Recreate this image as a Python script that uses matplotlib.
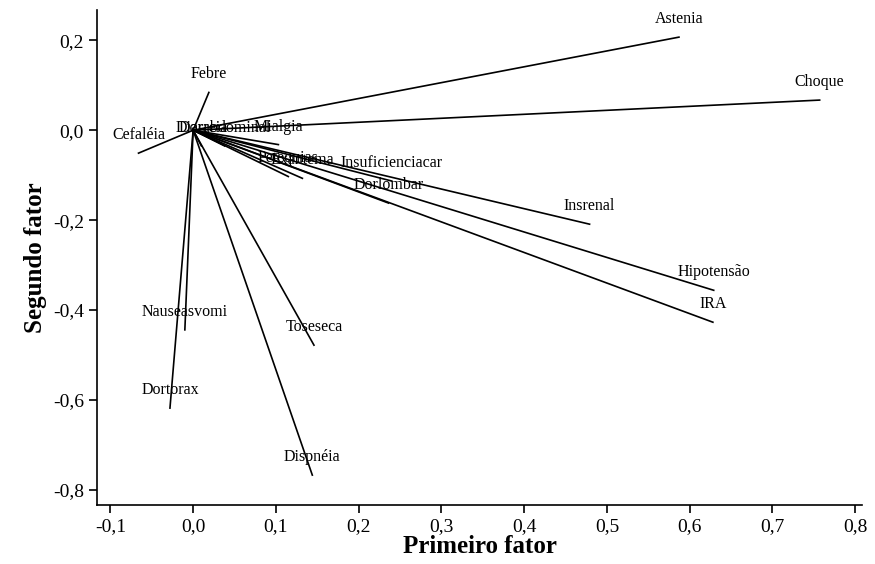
import matplotlib
matplotlib.use("Agg")
import matplotlib.pyplot as plt
from matplotlib.ticker import FuncFormatter

plt.rcParams['font.family'] = ['Liberation Serif', 'DejaVu Serif']

# cargas fatoriais (primeiro fator, segundo fator)
sintomas = ["Astenia", "Choque", "Febre", "Cefaléia", "Insrenal", "Hipotensão", "IRA",
            "Nauseasvomi", "Dortorax", "Toseseca", "Dispnéia", "Mialgia", "Diarreia",
            "Dorabdominal", "Exantema", "Petequias", "Insuficienciacar", "Dorlombar"]
fator1 = [0.587, 0.757, 0.019, -0.066, 0.479, 0.629, 0.628,
          -0.010, -0.028, 0.146, 0.144, 0.103, 0.010,
          0.038, 0.132, 0.115, 0.240, 0.236]
fator2 = [0.207, 0.067, 0.084, -0.051, -0.209, -0.356, -0.427,
          -0.444, -0.618, -0.478, -0.767, -0.032, -0.035,
          -0.035, -0.107, -0.103, -0.113, -0.162]

fig = plt.figure(figsize=(8.75, 5.64), dpi=100)
ax = fig.add_axes([0.111, 0.105, 0.874, 0.877])

for nome, x, y in zip(sintomas, fator1, fator2):
    ax.plot([0, x], [0, y], color="black", lw=1.2)
    ax.annotate(nome, (x, y), xytext=(0, 13), textcoords="offset points",
                ha="center", va="center", fontsize=11.5)

ax.set_xlim(-0.116, 0.808)
ax.set_ylim(-0.833, 0.267)
ax.set_xticks([-0.1, 0.0, 0.1, 0.2, 0.3, 0.4, 0.5, 0.6, 0.7, 0.8])
ax.set_yticks([0.2, 0.0, -0.2, -0.4, -0.6, -0.8])
virgula = FuncFormatter(lambda v, pos: f"{v:.1f}".replace(".", ",").replace("-0,0", "0,0"))
ax.xaxis.set_major_formatter(virgula)
ax.yaxis.set_major_formatter(virgula)
ax.tick_params(labelsize=14, length=6, width=1.2)

ax.spines["top"].set_visible(False)
ax.spines["right"].set_visible(False)
ax.spines["left"].set_linewidth(1.2)
ax.spines["bottom"].set_linewidth(1.2)

ax.set_xlabel("Primeiro fator", fontsize=18, fontweight="bold", labelpad=0)
ax.set_ylabel("Segundo fator", fontsize=18, fontweight="bold", labelpad=4)

fig.savefig("out.png", dpi=100)
